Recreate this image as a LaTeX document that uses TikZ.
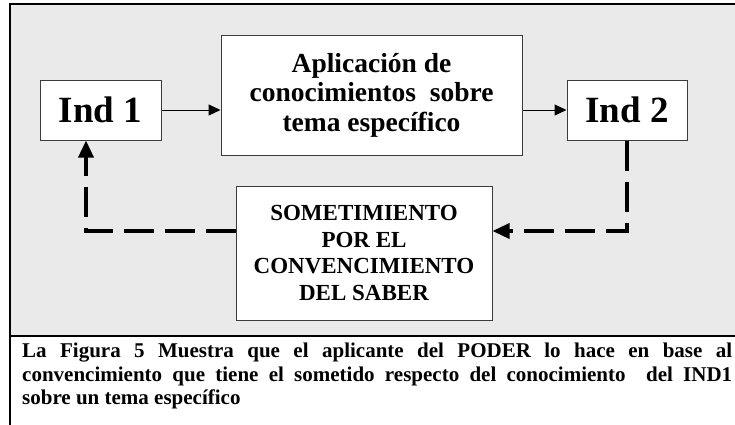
\documentclass[tikz,border=0pt]{standalone}
\usepackage{fontspec}
\setmainfont{Liberation Serif}
\usetikzlibrary{arrows.meta}
\definecolor{panelgray}{HTML}{EAEAEA}
\definecolor{boxline}{HTML}{3C3C3C}
\tikzset{
	box/.style={draw=boxline, line width=1pt, fill=white, inner sep=0pt, align=center},
	flow/.style={line width=1pt, -{Triangle[length=12pt,width=11pt]}},
	back/.style={line width=3.5pt, dash pattern=on 30pt off 11pt, -{Triangle[length=17pt,width=15pt]}},
}
\begin{document}
\begin{tikzpicture}[x=1pt,y=-1pt]
			%%%%% START %%%%%
			\useasboundingbox (0,0) rectangle (735,424);
			
			\fill[panelgray] (10,4) rectangle (740,336);
			\draw[line width=1.6pt] (740,4) -- (10,4) -- (10,430);
			\draw[line width=1.6pt] (10,336) -- (740,336);
			
			\node[box, minimum width=121pt, minimum height=60pt, font=\bfseries\fontsize{37}{40}\selectfont] (ind1) at (100.5,110) {Ind 1};
			\node[box, minimum width=301pt, minimum height=120pt, font=\bfseries\fontsize{27.5}{29.5}\selectfont] (apl) at (371.5,95) {Aplicación de\\conocimientos\ \ sobre\\tema específico};
			\node[box, minimum width=120pt, minimum height=60pt, font=\bfseries\fontsize{37}{40}\selectfont] (ind2) at (627,110) {Ind 2};
			\node[box, minimum width=256pt, minimum height=134pt, font=\bfseries\fontsize{23}{26.7}\selectfont] (som) at (364,253) {SOMETIMIENTO\\POR EL\\CONVENCIMIENTO\\DEL SABER};
			
			\draw[flow] (ind1.east) -- (ind1.east -| apl.west);
			\draw[flow] (apl.east |- ind2.west) -- (ind2.west);
			
			\coordinate (turnR) at (627,231);
			\coordinate (turnL) at (86,231);
			\draw[back] (ind2.south) -- (turnR) -- (turnR -| som.east);
			\draw[back] (turnL -| som.west) -- (turnL) -- (turnL |- ind1.south);
			
			\node[anchor=north west, text width=710pt, align=justify, inner sep=0pt, font=\bfseries\fontsize{21}{23.5}\selectfont] (capt) at (22,343) {La Figura 5 Muestra que el aplicante del PODER lo hace en base al\linebreak convencimiento que tiene el sometido respecto del conocimiento\ \ del IND1\linebreak sobre un tema específico};
			%%%%% END %%%%%
\end{tikzpicture}
\end{document}
